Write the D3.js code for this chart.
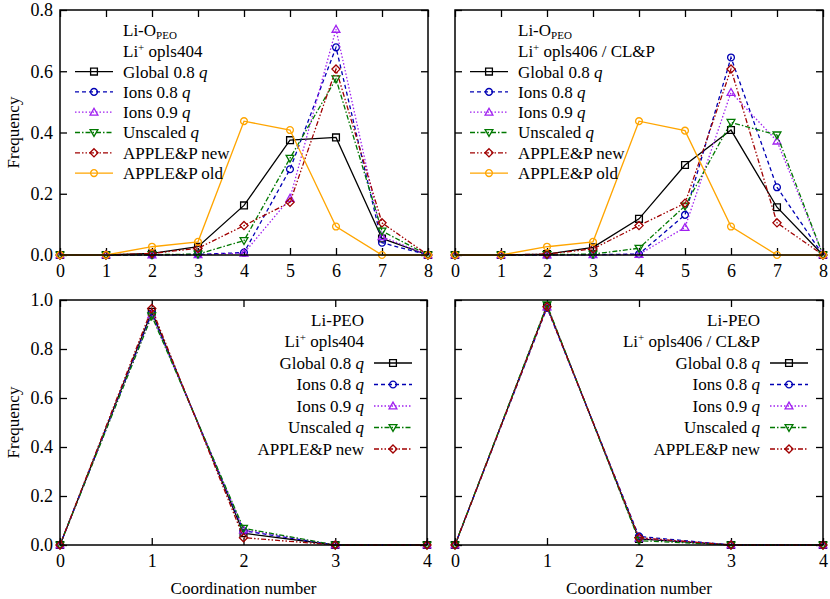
<!DOCTYPE html>
<html><head><meta charset="utf-8">
<script src="https://cdn.jsdelivr.net/npm/d3@7"></script>
<style>
body{margin:0;background:#fff;}
svg, svg text, svg tspan{font-family:"Liberation Serif","Times New Roman","DejaVu Serif",serif !important;}
</style></head>
<body><svg id="c" width="830" height="599"></svg>
<script>
// ---------- data ----------
const xTop = [0,1,2,3,4,5,6,7,8];
const xBottom = [0,1,2,3,4];
const yTicksTop = [0.0,0.2,0.4,0.6,0.8];
const yTicksBottom = [0.0,0.2,0.4,0.6,0.8,1.0];

const seriesNames = ["Global 0.8 ", "Ions 0.8 ", "Ions 0.9 ", "Unscaled ", "APPLE&P new", "APPLE&P old"];
const seriesItalicQ = [true, true, true, true, false, false];

// Li-O_PEO, Li+ opls404
const tlGlobal   = [0,0,0.005,0.027,0.162,0.375,0.384,0.054,0];
const tlIons08   = [0,0,0,0.002,0.008,0.280,0.678,0.040,0];
const tlIons09   = [0,0,0,0.001,0.006,0.185,0.737,0.060,0];
const tlUnscaled = [0,0,0.001,0.003,0.047,0.316,0.575,0.078,0];
const tlAppleNew = [0,0,0.005,0.022,0.096,0.172,0.607,0.105,0];
const tlAppleOld = [0,0,0.027,0.043,0.437,0.408,0.093,0,0];

// Li-O_PEO, Li+ opls406 / CL&P
const trGlobal   = [0,0,0.003,0.025,0.118,0.294,0.408,0.156,0];
const trIons08   = [0,0,0,0.001,0.003,0.131,0.645,0.221,0];
const trIons09   = [0,0,0,0.001,0.002,0.090,0.531,0.372,0];
const trUnscaled = [0,0,0.001,0.003,0.022,0.160,0.433,0.392,0];
const trAppleNew = [0,0,0.003,0.020,0.096,0.169,0.607,0.105,0];
const trAppleOld = [0,0,0.027,0.043,0.437,0.406,0.093,0,0];

// Li-PEO, Li+ opls404
const blGlobal   = [0,0.952,0.048,0,0];
const blIons08   = [0,0.945,0.058,0,0];
const blIons09   = [0,0.940,0.062,0,0];
const blUnscaled = [0,0.935,0.068,0,0];
const blAppleNew = [0,0.965,0.030,0,0];

// Li-PEO, Li+ opls406 / CL&P
const brGlobal   = [0,0.975,0.025,0,0];
const brIons08   = [0,0.968,0.035,0,0];
const brIons09   = [0,0.972,0.028,0,0];
const brUnscaled = [0,0.980,0.018,0,0];
const brAppleNew = [0,0.972,0.030,0,0];

// ---------- styles ----------
const styles = [
  {color:"#000000", dash:null, marker:"square"},
  {color:"#0000b4", dash:"4,3", marker:"circle"},
  {color:"#a020f0", dash:"1.5,2", marker:"triangle"},
  {color:"#007800", dash:"5,2,1.5,2", marker:"tridown"},
  {color:"#a00000", dash:"5,2,1.5,2,1.5,2", marker:"diamond"},
  {color:"#ffa500", dash:null, marker:"circle"}
];

function markerPath(t, r){
  if(t==="square") return `M${-r},${-r}H${r}V${r}H${-r}Z`;
  if(t==="circle") return `M${r},0A${r},${r} 0 1,1 ${-r},0A${r},${r} 0 1,1 ${r},0Z`;
  if(t==="triangle"){const h=r*1.15; return `M0,${-h}L${h},${h*0.75}L${-h},${h*0.75}Z`;}
  if(t==="tridown"){const h=r*1.15; return `M0,${h}L${h},${-h*0.75}L${-h},${-h*0.75}Z`;}
  if(t==="diamond"){const h=r*1.2; return `M0,${-h}L${h},0L0,${h}L${-h},0Z`;}
}

const panels = [
  {x0:60, x1:428, y0:10, y1:255, xs:xTop, yt:yTicksTop, ymax:0.8, yLab:true, xTitle:false,
   series:[tlGlobal,tlIons08,tlIons09,tlUnscaled,tlAppleNew,tlAppleOld],
   head:[["Li-O","PEO",""],["Li","+"," opls404"]], key:"left"},
  {x0:455, x1:823, y0:10, y1:255, xs:xTop, yt:yTicksTop, ymax:0.8, yLab:false, xTitle:false,
   series:[trGlobal,trIons08,trIons09,trUnscaled,trAppleNew,trAppleOld],
   head:[["Li-O","PEO",""],["Li","+"," opls406 / CL&P"]], key:"left"},
  {x0:60, x1:427, y0:300, y1:545, xs:xBottom, yt:yTicksBottom, ymax:1.0, yLab:true, xTitle:true,
   series:[blGlobal,blIons08,blIons09,blUnscaled,blAppleNew],
   head:[["Li-PEO",null,null],["Li","+"," opls404"]], key:"right"},
  {x0:455, x1:823, y0:300, y1:545, xs:xBottom, yt:yTicksBottom, ymax:1.0, yLab:false, xTitle:true,
   series:[brGlobal,brIons08,brIons09,brUnscaled,brAppleNew],
   head:[["Li-PEO",null,null],["Li","+"," opls406 / CL&P"]], key:"right"}
];

const svg = d3.select("#c");
const FS = 17;

panels.forEach(p=>{
  const x = d3.scaleLinear().domain([0, p.xs[p.xs.length-1]]).range([p.x0, p.x1]);
  const y = d3.scaleLinear().domain([0, p.ymax]).range([p.y1, p.y0]);
  const g = svg.append("g");

  const fmt = d3.format(".1f");
  const ax = [
    [d3.axisBottom(x).tickValues(p.xs).tickFormat(d3.format("d")).tickSizeInner(-7).tickSizeOuter(0).tickPadding(9), `translate(0,${p.y1})`, true],
    [d3.axisTop(x).tickValues(p.xs).tickSizeInner(-7).tickSizeOuter(0), `translate(0,${p.y0})`, false],
    [d3.axisLeft(y).tickValues(p.yt).tickFormat(fmt).tickSizeInner(-7).tickSizeOuter(0).tickPadding(7), `translate(${p.x0},0)`, p.yLab],
    [d3.axisRight(y).tickValues(p.yt).tickSizeInner(-7).tickSizeOuter(0), `translate(${p.x1},0)`, false]
  ];
  ax.forEach(([a,tr,lab])=>{
    const ag = g.append("g").attr("transform",tr).call(a)
      .attr("font-family",null).attr("font-size",null);
    ag.select(".domain").remove();
    ag.selectAll("line").attr("stroke","#000").attr("stroke-width",1.3);
    ag.selectAll("text").style("font-size","18px").attr("fill","#000");
    if(!lab) ag.selectAll("text").remove();
  });

  p.series.forEach((vals,i)=>{
    const st = styles[i];
    const line = d3.line().x((d,j)=>x(p.xs[j])).y(d=>y(d));
    g.append("path").datum(vals).attr("d",line).attr("fill","none")
      .attr("stroke",st.color).attr("stroke-width",1.3)
      .attr("stroke-dasharray",st.dash);
    g.selectAll(null).data(vals).enter().append("path")
      .attr("transform",(d,j)=>`translate(${x(p.xs[j])},${y(d)})`)
      .attr("d",markerPath(st.marker,3.4)).attr("fill","none")
      .attr("stroke",st.color).attr("stroke-width",1.3);
  });

  g.append("rect").attr("x",p.x0).attr("y",p.y0).attr("width",p.x1-p.x0).attr("height",p.y1-p.y0)
    .attr("fill","none").attr("stroke","#000").attr("stroke-width",1.5);

  const left = p.key==="left";
  const textX = left ? p.x0+63 : p.x1-63;
  const lineA = left ? p.x0+15 : p.x1-53;
  const lineB = left ? p.x0+53 : p.x1-15;
  const rowY0 = left ? p.y0+20.5 : p.y0+20;
  const dy = left ? 20.3 : 21.5;
  const anchor = left ? "start" : "end";
  p.head.forEach((h,k)=>{
    const t = g.append("text").attr("x",textX).attr("y",rowY0+k*dy).attr("dy","0.35em")
      .attr("text-anchor",anchor).style("font-size",FS+"px");
    t.append("tspan").text(h[0]);
    if(h[1]){
      const sub = h[0]==="Li-O";
      const off = sub ? 3 : -6;
      t.append("tspan").style("font-size","11px").attr("dy", off).text(h[1]);
      if(h[2]) t.append("tspan").attr("dy", -off).text(h[2]);
    }
  });
  p.series.forEach((vals,i)=>{
    const st = styles[i];
    const yy = rowY0 + (i+2)*dy + (left?0.5:0);
    const t = g.append("text").attr("x",textX).attr("y",yy).attr("dy","0.35em")
      .attr("text-anchor",anchor).style("font-size",FS+"px");
    t.append("tspan").text(seriesNames[i]);
    if(seriesItalicQ[i]) t.append("tspan").attr("font-style","italic").text("q");
    g.append("line").attr("x1",lineA).attr("x2",lineB).attr("y1",yy).attr("y2",yy)
      .attr("stroke",st.color).attr("stroke-width",1.3).attr("stroke-dasharray",st.dash);
    g.append("path").attr("transform",`translate(${(lineA+lineB)/2},${yy})`)
      .attr("d",markerPath(st.marker,3.4)).attr("fill","none")
      .attr("stroke",st.color).attr("stroke-width",1.3);
  });

  if(p.yLab){
    g.append("text").attr("transform",`translate(13,${(p.y0+p.y1)/2}) rotate(-90)`)
      .attr("text-anchor","middle").attr("dy","0.35em").style("font-size",FS+"px").text("Frequency");
  }
  if(p.xTitle){
    g.append("text").attr("x",(p.x0+p.x1)/2).attr("y",588).attr("dy","0.35em")
      .attr("text-anchor","middle").style("font-size",FS+"px").text("Coordination number");
  }
});
</script></body></html>
